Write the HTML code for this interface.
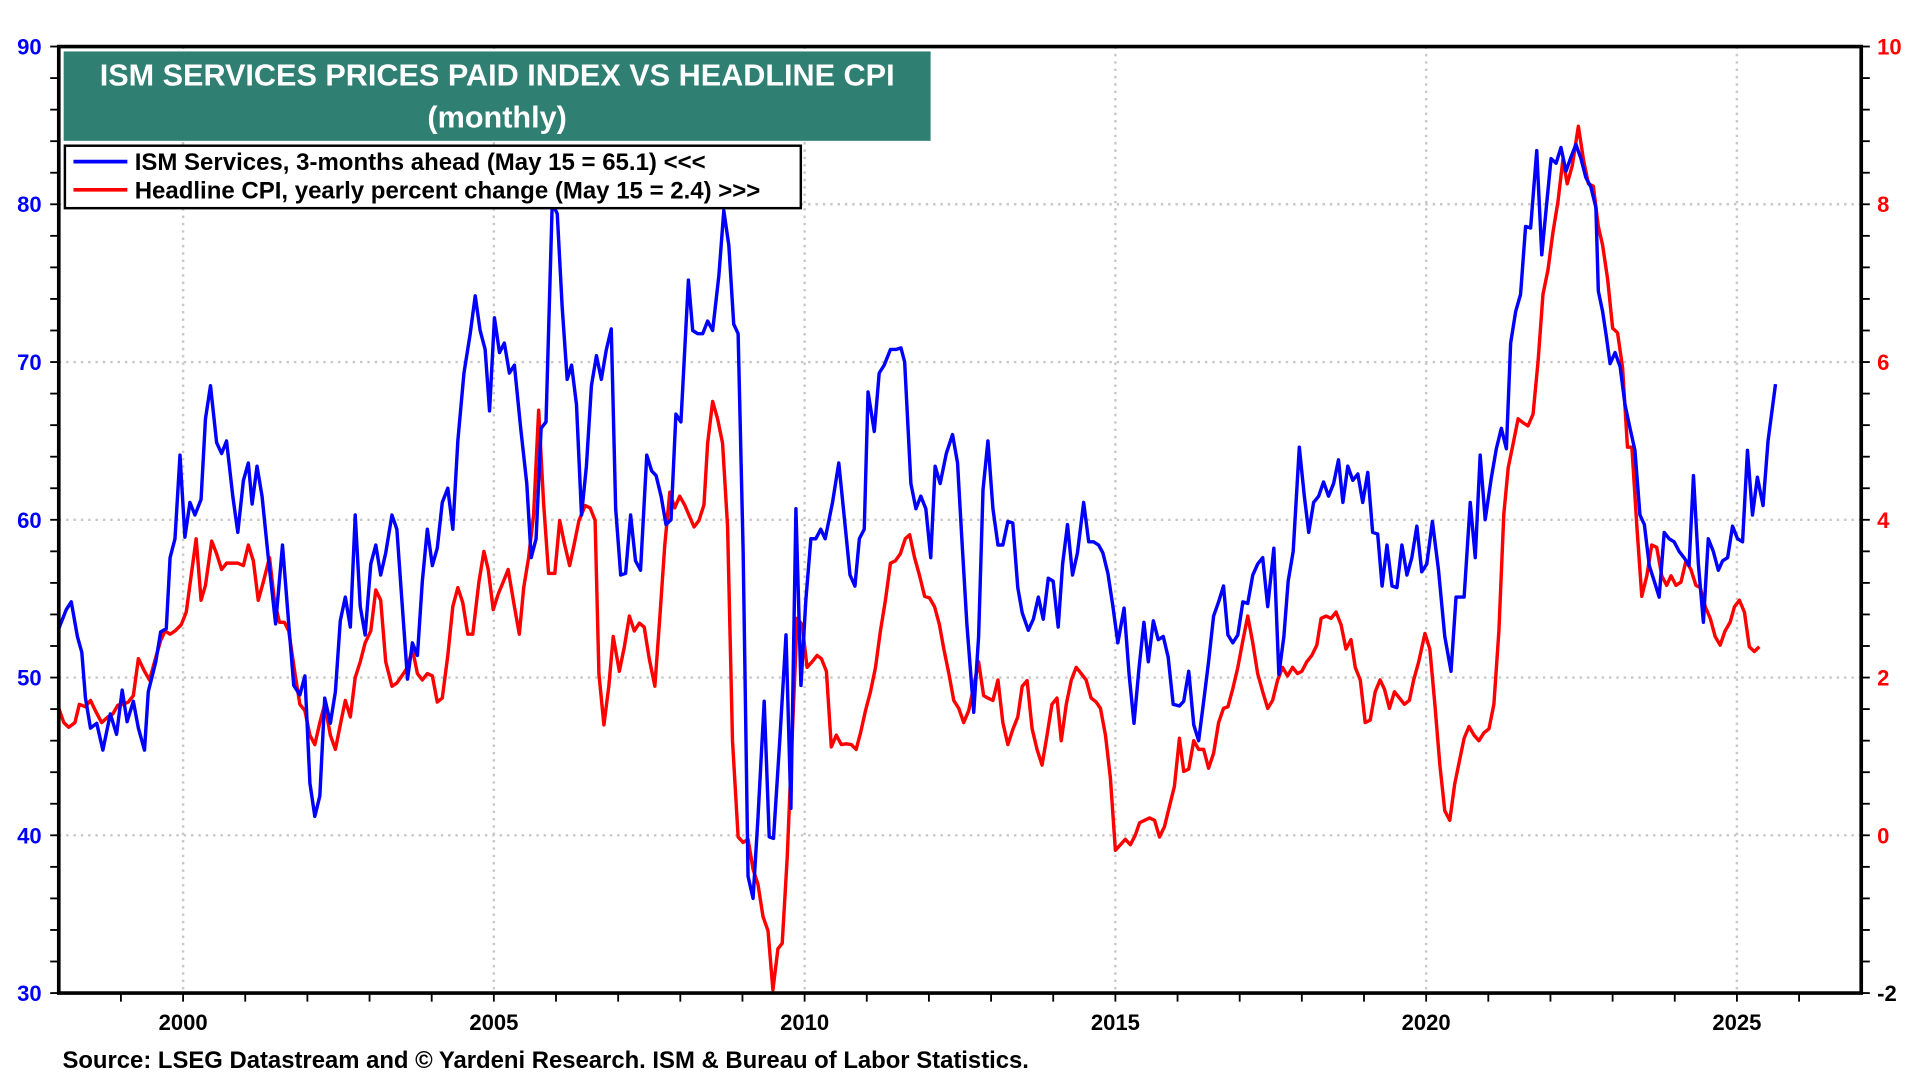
<!DOCTYPE html>
<html><head><meta charset="utf-8"><style>
html,body{margin:0;padding:0;background:#fff;}
svg{display:block;font-family:"Liberation Sans",Arial,sans-serif;font-weight:bold;}
</style></head><body>
<svg id="chart" width="1920" height="1080" viewBox="0 0 1568 882" xmlns="http://www.w3.org/2000/svg">
<g id="grid"></g>
<g id="series"></g>
<g id="axes"></g>
<rect x="52" y="42" width="708" height="73" fill="#2f7f72"/>
<text x="406" y="70" fill="#fff" font-size="25" text-anchor="middle">ISM SERVICES PRICES PAID INDEX VS HEADLINE CPI</text>
<text x="406" y="104" fill="#fff" font-size="25" text-anchor="middle">(monthly)</text>
<g>
<rect x="53" y="119" width="601" height="51" fill="#fff" stroke="#000" stroke-width="2"/>
<line x1="60" y1="132" x2="104" y2="132" stroke="#0000ff" stroke-width="3"/>
<text x="110" y="139" font-size="19.6">ISM Services, 3-months ahead (May 15 = 65.1) &lt;&lt;&lt;</text>
<line x1="60" y1="155" x2="104" y2="155" stroke="#ff0000" stroke-width="3"/>
<text x="110" y="162" font-size="19.6">Headline CPI, yearly percent change (May 15 = 2.4) &gt;&gt;&gt;</text>
</g>
<text x="51" y="872" font-size="19.5">Source: LSEG Datastream and © Yardeni Research. ISM &amp; Bureau of Labor Statistics.</text>
</svg>
<script>
const ismDates=[1998.0,1998.12,1998.2,1998.3,1998.37,1998.43,1998.51,1998.61,1998.71,1998.83,1998.93,1999.02,1999.1,1999.2,1999.28,1999.38,1999.44,1999.56,1999.64,1999.73,1999.79,1999.87,1999.95,2000.03,2000.11,2000.19,2000.29,2000.36,2000.44,2000.54,2000.62,2000.7,2000.8,2000.88,2000.97,2001.05,2001.11,2001.19,2001.27,2001.37,2001.49,2001.6,2001.7,2001.78,2001.88,2001.96,2002.04,2002.12,2002.2,2002.28,2002.37,2002.45,2002.53,2002.61,2002.69,2002.77,2002.85,2002.93,2003.02,2003.1,2003.18,2003.26,2003.36,2003.44,2003.52,2003.61,2003.69,2003.77,2003.85,2003.93,2004.01,2004.09,2004.17,2004.26,2004.34,2004.42,2004.52,2004.62,2004.7,2004.78,2004.86,2004.93,2005.01,2005.09,2005.17,2005.25,2005.33,2005.43,2005.53,2005.6,2005.68,2005.76,2005.84,2005.94,2006.02,2006.1,2006.18,2006.25,2006.33,2006.41,2006.49,2006.57,2006.65,2006.73,2006.81,2006.89,2006.96,2007.04,2007.12,2007.2,2007.28,2007.36,2007.46,2007.54,2007.61,2007.69,2007.77,2007.85,2007.93,2008.01,2008.13,2008.2,2008.28,2008.36,2008.44,2008.52,2008.62,2008.7,2008.78,2008.86,2008.93,2009.01,2009.09,2009.17,2009.25,2009.35,2009.43,2009.5,2009.6,2009.7,2009.78,2009.86,2009.94,2010.02,2010.1,2010.18,2010.26,2010.33,2010.45,2010.55,2010.65,2010.73,2010.81,2010.88,2010.96,2011.02,2011.12,2011.2,2011.28,2011.38,2011.47,2011.55,2011.61,2011.71,2011.79,2011.87,2011.95,2012.03,2012.1,2012.18,2012.28,2012.38,2012.46,2012.53,2012.61,2012.72,2012.8,2012.87,2012.95,2013.03,2013.11,2013.19,2013.27,2013.35,2013.43,2013.5,2013.6,2013.68,2013.76,2013.84,2013.92,2014.0,2014.08,2014.15,2014.23,2014.31,2014.39,2014.49,2014.57,2014.65,2014.73,2014.8,2014.88,2014.96,2015.04,2015.14,2015.22,2015.3,2015.38,2015.46,2015.53,2015.61,2015.69,2015.77,2015.85,2015.93,2016.03,2016.1,2016.18,2016.26,2016.34,2016.42,2016.5,2016.58,2016.66,2016.74,2016.81,2016.89,2016.97,2017.05,2017.13,2017.21,2017.29,2017.37,2017.45,2017.55,2017.63,2017.71,2017.78,2017.86,2017.96,2018.04,2018.11,2018.19,2018.27,2018.35,2018.43,2018.51,2018.59,2018.66,2018.74,2018.82,2018.9,2018.98,2019.06,2019.14,2019.22,2019.29,2019.37,2019.45,2019.53,2019.61,2019.69,2019.77,2019.85,2019.93,2020.01,2020.1,2020.2,2020.3,2020.4,2020.48,2020.61,2020.71,2020.79,2020.87,2020.95,2021.05,2021.13,2021.21,2021.29,2021.36,2021.44,2021.52,2021.6,2021.68,2021.78,2021.86,2021.94,2022.01,2022.09,2022.17,2022.25,2022.33,2022.41,2022.49,2022.57,2022.65,2022.73,2022.77,2022.84,2022.9,2022.96,2023.04,2023.12,2023.2,2023.28,2023.36,2023.44,2023.51,2023.59,2023.67,2023.75,2023.83,2023.91,2023.99,2024.07,2024.15,2024.23,2024.3,2024.38,2024.46,2024.54,2024.62,2024.7,2024.77,2024.85,2024.93,2025.01,2025.09,2025.17,2025.25,2025.33,2025.42,2025.5,2025.62];
const ismValues=[53.1,54.3,54.8,52.6,51.6,48.7,46.8,47.1,45.4,47.7,46.4,49.2,47.2,48.5,46.8,45.4,49.1,51,52.9,53.1,57.6,58.8,64.1,58.9,61.1,60.3,61.3,66.4,68.5,64.9,64.2,65,61.5,59.2,62.5,63.6,61,63.4,61.5,57.6,53.4,58.4,53.4,49.5,48.9,50.1,43.3,41.2,42.5,48.7,47.1,49.1,53.6,55.1,53.2,60.3,54.5,52.7,57.2,58.4,56.5,57.9,60.3,59.4,54.9,49.9,52.2,51.4,56.1,59.4,57.1,58.2,61.1,62,59.4,65,69.3,71.8,74.2,72,70.8,66.9,72.8,70.6,71.2,69.3,69.8,65.9,62.3,57.6,58.8,65.8,66.2,80.1,79.4,73.5,68.9,69.8,67.3,60.3,63.4,68.5,70.4,68.9,70.8,72.1,60.7,56.5,56.6,60.3,57.4,56.8,64.1,63.1,62.8,61.5,59.7,60,66.7,66.2,75.2,72,71.8,71.8,72.6,72,75.5,79.6,77.4,72.4,71.8,58,37.4,36,41.1,48.5,39.9,39.8,46,52.7,41.7,60.7,49.5,54.9,58.8,58.8,59.4,58.8,61.1,63.6,59.7,56.5,55.8,58.8,59.4,68.1,65.6,69.3,69.8,70.8,70.8,70.9,70,62.3,60.7,61.5,60.7,57.6,63.4,62.3,64.2,65.4,63.6,58.8,53.4,47.8,52.6,61.9,65,60.7,58.4,58.4,59.9,59.8,55.7,54.1,53,53.7,55.1,53.7,56.3,56.1,53.2,57.2,59.7,56.5,57.9,61.1,58.6,58.6,58.4,57.9,56.6,54.5,52.2,54.4,50.2,47.1,50.6,53.5,51,53.6,52.4,52.6,51.3,48.3,48.2,48.5,50.4,47,46,48.5,51,53.9,54.8,55.8,52.7,52.2,52.7,54.8,54.7,56.5,57.2,57.6,54.5,58.2,50.2,52.6,56.1,58,64.6,61.5,59.2,61.1,61.5,62.4,61.5,62.3,63.8,61.1,63.4,62.5,62.9,61.1,63,59.2,59.1,55.8,58.4,55.8,55.7,58.4,56.5,57.6,59.6,56.7,57.2,59.9,56.8,52.6,50.4,55.1,55.1,61.1,57.6,64.1,60,62.7,64.5,65.8,64.5,71.2,73.2,74.3,78.6,78.5,83.4,76.8,80.1,82.9,82.6,83.6,82.1,83,83.8,82.9,81.7,81.1,79.8,74.5,73.2,71.6,69.9,70.6,69.7,67.3,65.8,64.4,60.3,59.7,57.1,56.1,55.1,59.2,58.8,58.6,58,57.6,57.1,62.8,57.2,53.5,58.8,58,56.8,57.4,57.6,59.6,58.8,58.6,64.4,60.3,62.7,60.9,65,68.6];
const cpiDates=[1998.0,1998.08,1998.16,1998.26,1998.33,1998.43,1998.51,1998.59,1998.69,1998.79,1998.87,1998.95,1999.04,1999.12,1999.2,1999.28,1999.38,1999.46,1999.54,1999.64,1999.71,1999.79,1999.87,1999.97,2000.05,2000.13,2000.21,2000.29,2000.36,2000.46,2000.54,2000.62,2000.7,2000.8,2000.88,2000.97,2001.05,2001.13,2001.21,2001.29,2001.39,2001.47,2001.55,2001.63,2001.7,2001.8,2001.88,2001.96,2002.04,2002.12,2002.2,2002.28,2002.37,2002.45,2002.53,2002.61,2002.69,2002.77,2002.85,2002.93,2003.02,2003.1,2003.18,2003.26,2003.36,2003.44,2003.52,2003.61,2003.69,2003.77,2003.85,2003.93,2004.01,2004.09,2004.17,2004.26,2004.34,2004.42,2004.5,2004.58,2004.66,2004.76,2004.84,2004.91,2004.99,2005.07,2005.15,2005.23,2005.33,2005.41,2005.48,2005.56,2005.64,2005.72,2005.8,2005.88,2005.98,2006.06,2006.14,2006.22,2006.29,2006.37,2006.47,2006.55,2006.63,2006.69,2006.77,2006.85,2006.92,2007.02,2007.1,2007.18,2007.26,2007.34,2007.42,2007.5,2007.59,2007.67,2007.75,2007.83,2007.91,2007.99,2008.07,2008.15,2008.22,2008.3,2008.38,2008.44,2008.52,2008.6,2008.68,2008.76,2008.84,2008.93,2009.01,2009.09,2009.17,2009.25,2009.33,2009.41,2009.49,2009.57,2009.64,2009.72,2009.8,2009.88,2009.96,2010.04,2010.12,2010.2,2010.27,2010.35,2010.43,2010.51,2010.59,2010.67,2010.75,2010.83,2010.9,2010.98,2011.06,2011.14,2011.22,2011.3,2011.38,2011.46,2011.54,2011.62,2011.69,2011.77,2011.85,2011.93,2012.01,2012.09,2012.17,2012.24,2012.32,2012.4,2012.48,2012.56,2012.64,2012.72,2012.8,2012.88,2012.95,2013.03,2013.11,2013.19,2013.27,2013.35,2013.43,2013.5,2013.58,2013.66,2013.74,2013.82,2013.9,2013.98,2014.06,2014.13,2014.21,2014.29,2014.37,2014.45,2014.53,2014.61,2014.69,2014.76,2014.84,2014.92,2015.0,2015.08,2015.16,2015.24,2015.32,2015.39,2015.47,2015.55,2015.63,2015.71,2015.79,2015.87,2015.95,2016.03,2016.1,2016.18,2016.26,2016.34,2016.42,2016.5,2016.58,2016.66,2016.74,2016.81,2016.89,2016.97,2017.05,2017.13,2017.21,2017.29,2017.37,2017.45,2017.53,2017.61,2017.69,2017.77,2017.85,2017.93,2018.0,2018.08,2018.16,2018.24,2018.31,2018.39,2018.47,2018.55,2018.63,2018.71,2018.79,2018.86,2018.94,2019.02,2019.1,2019.18,2019.26,2019.33,2019.41,2019.49,2019.57,2019.65,2019.73,2019.8,2019.88,2019.98,2020.06,2020.14,2020.22,2020.3,2020.38,2020.46,2020.54,2020.61,2020.69,2020.77,2020.85,2020.93,2021.01,2021.09,2021.17,2021.25,2021.32,2021.4,2021.48,2021.56,2021.64,2021.72,2021.8,2021.88,2021.96,2022.04,2022.12,2022.2,2022.27,2022.35,2022.45,2022.53,2022.61,2022.69,2022.77,2022.84,2022.92,2023.0,2023.08,2023.16,2023.24,2023.31,2023.39,2023.47,2023.55,2023.63,2023.71,2023.79,2023.87,2023.94,2024.02,2024.1,2024.18,2024.26,2024.34,2024.41,2024.49,2024.57,2024.65,2024.73,2024.81,2024.89,2024.96,2025.04,2025.12,2025.2,2025.28,2025.36];
const cpiValues=[1.61,1.43,1.37,1.43,1.66,1.63,1.71,1.58,1.43,1.5,1.54,1.65,1.66,1.69,1.77,2.24,2.08,1.97,2.2,2.47,2.59,2.55,2.59,2.67,2.83,3.29,3.76,2.98,3.17,3.73,3.57,3.37,3.45,3.45,3.45,3.42,3.68,3.48,2.98,3.21,3.52,2.98,2.7,2.7,2.59,2.05,1.66,1.58,1.27,1.15,1.43,1.66,1.27,1.09,1.4,1.71,1.5,2,2.2,2.44,2.59,3.11,2.98,2.2,1.89,1.93,2.02,2.13,2.36,2.05,1.97,2.05,2.02,1.69,1.74,2.28,2.9,3.14,2.95,2.55,2.55,3.21,3.6,3.37,2.86,3.06,3.21,3.37,2.9,2.55,3.14,3.52,4.07,5.39,4.22,3.32,3.32,3.99,3.68,3.42,3.68,3.99,4.18,4.15,3.99,2.05,1.4,1.89,2.52,2.08,2.39,2.78,2.59,2.69,2.64,2.24,1.89,2.75,3.68,4.35,4.15,4.3,4.19,4.04,3.91,3.99,4.19,4.97,5.5,5.28,4.97,3.91,1.2,-0.02,-0.09,-0.05,-0.43,-0.62,-1.03,-1.21,-1.96,-1.44,-1.37,-0.28,1.27,2.75,2.67,2.13,2.2,2.28,2.24,2.08,1.12,1.27,1.15,1.16,1.15,1.09,1.3,1.58,1.82,2.13,2.59,2.98,3.45,3.48,3.57,3.76,3.81,3.52,3.29,3.03,3.01,2.9,2.67,2.36,2.05,1.71,1.61,1.43,1.58,1.89,2.2,1.77,1.74,1.71,1.97,1.43,1.15,1.34,1.5,1.89,1.96,1.35,1.09,0.89,1.27,1.66,1.74,1.2,1.66,1.97,2.13,2.05,1.97,1.74,1.69,1.61,1.27,0.73,-0.19,-0.12,-0.05,-0.12,0,0.16,0.19,0.22,0.19,-0.02,0.11,0.37,0.62,1.23,0.81,0.84,1.2,1.09,1.09,0.85,1.04,1.43,1.61,1.63,1.86,2.13,2.47,2.78,2.44,2.05,1.82,1.61,1.71,1.97,2.13,2.02,2.13,2.05,2.08,2.2,2.28,2.41,2.75,2.78,2.75,2.83,2.67,2.36,2.48,2.13,1.97,1.43,1.46,1.82,1.97,1.85,1.61,1.82,1.74,1.66,1.71,1.97,2.2,2.56,2.36,1.66,0.89,0.31,0.19,0.65,0.96,1.23,1.38,1.27,1.2,1.3,1.35,1.66,2.59,4.07,4.66,4.97,5.28,5.23,5.19,5.34,6.01,6.86,7.17,7.64,8.03,8.57,8.26,8.49,8.99,8.57,8.26,8.23,7.72,7.48,7.05,6.43,6.37,5.93,4.92,4.92,3.91,3.03,3.29,3.68,3.65,3.29,3.17,3.29,3.17,3.21,3.48,3.37,3.17,3.14,2.9,2.75,2.52,2.41,2.59,2.7,2.9,2.98,2.83,2.39,2.33,2.39];
const leftTicks=[30,40,50,60,70,80,90];
const rightTicks=[-2,0,2,4,6,8,10];
const yearTicks=[2000,2005,2010,2015,2020,2025];

const NS='http://www.w3.org/2000/svg';
const L=48,R=1520,T=38,B=811;
const X0=1998,X1=2027;
function xs(y){return L+(y-X0)/(X1-X0)*(R-L);}
function yl(v){return B-(v-30)/(90-30)*(B-T);}
function yr(v){return B-(v+2)/(10+2)*(B-T);}
function mk(tag,attrs,parent){const e=document.createElementNS(NS,tag);for(const k in attrs)e.setAttribute(k,attrs[k]);parent.appendChild(e);return e;}
const grid=document.getElementById('grid'),axes=document.getElementById('axes'),series=document.getElementById('series');

leftTicks.forEach(v=>{
  if(v>30&&v<90){const g=mk('line',{x1:L,x2:R,y1:yl(v),y2:yl(v),stroke:'#c8c8c8','stroke-width':2,'stroke-dasharray':'2,4'},grid);
  
  }
  const t=mk('text',{x:34,y:yl(v)+6.5,'text-anchor':'end','font-size':18,fill:'#0000ff'},axes);t.textContent=v;
  
  
});
for(let v=30;v<=90;v+=2){const tk=mk('line',{x1:L-7,x2:L,y1:yl(v),y2:yl(v),stroke:'#000','stroke-width':1.5},axes);
  
  }
rightTicks.forEach(v=>{
  const t=mk('text',{x:1533,y:yr(v)+6.5,'text-anchor':'start','font-size':18,fill:v===-2?'#000':'#ff0000'},axes);t.textContent=v;
  
  
});
for(let i=0;i<=30;i++){const v=-2+i*0.4;const tk=mk('line',{x1:R,x2:R+7,y1:yr(v),y2:yr(v),stroke:'#000','stroke-width':1.5},axes);
  
  }
yearTicks.forEach(y=>{
  const g=mk('line',{x1:xs(y),x2:xs(y),y1:T,y2:B,stroke:'#c8c8c8','stroke-width':2,'stroke-dasharray':'2,4'},grid);
  
  
  const t=mk('text',{x:xs(y),y:841,'text-anchor':'middle','font-size':18,fill:'#000'},axes);t.textContent=y;
  
  
});
for(let y=1999;y<=2026;y++){const tk=mk('line',{x1:xs(y),x2:xs(y),y1:B,y2:B+7,stroke:'#000','stroke-width':1.5},axes);
  
  }
const frame=mk('path',{d:`M${L},${B} L${L},${T} L${R},${T} L${R},${B} Z`,fill:'none',stroke:'#000','stroke-width':3},axes);



function line(dates,vals,sc,color,name){
  const d=dates.map((t,i)=>(i?'L':'M')+xs(t).toFixed(1)+','+sc(vals[i]).toFixed(1)).join(' ');
  const p=mk('path',{d:d,fill:'none',stroke:color,'stroke-width':2.8,'stroke-linejoin':'round'},series);
  
  
}
line(cpiDates,cpiValues,yr,'#ff0000','cpi-line');
line(ismDates,ismValues,yl,'#0000ff','ism-line');
</script>
</body></html>
